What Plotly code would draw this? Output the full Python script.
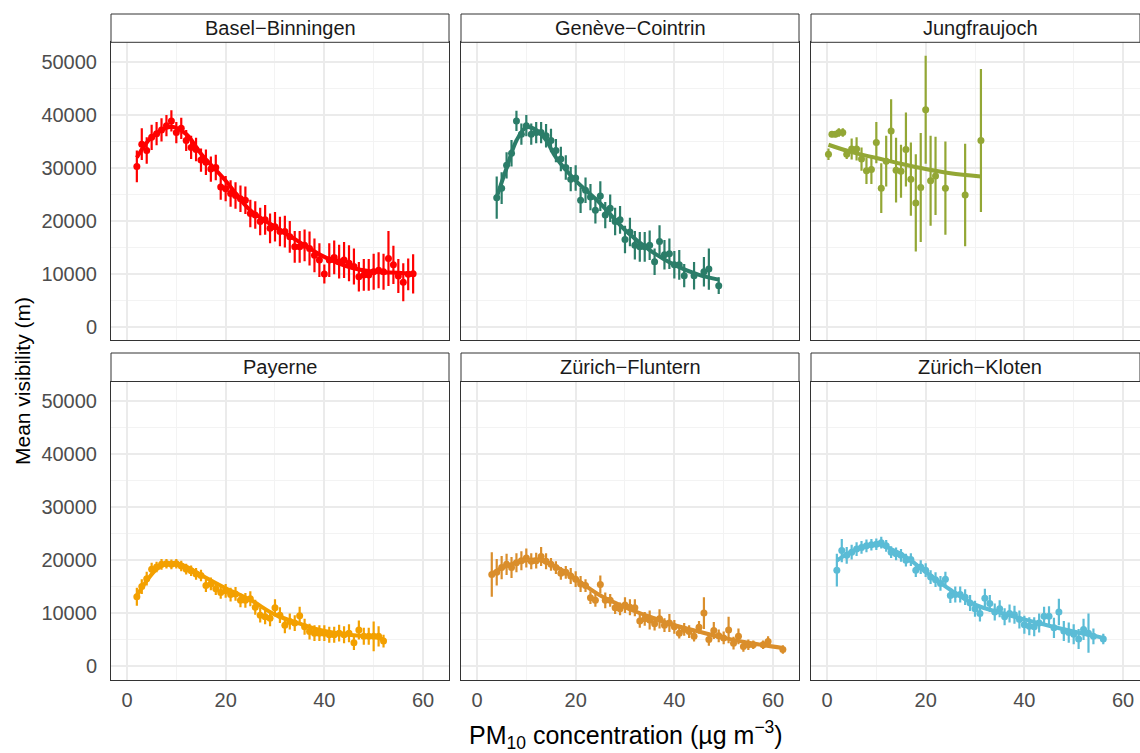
import plotly.graph_objects as go
from plotly.subplots import make_subplots

# ---- station order and colours ----
stations = ["Basel−Binningen", "Genève−Cointrin", "Jungfraujoch",
            "Payerne", "Zürich−Fluntern", "Zürich−Kloten"]
colors = ["#FF0000", "#2B7D69", "#93A735", "#F3A000", "#DA8E2B", "#5BBCD6"]

# ---- binned means (PM10 bin, mean visibility, half-width of interval) ----
basel_pm = [2, 3, 4, 5, 6, 7, 8, 9, 10, 11, 12, 13, 14, 15, 16, 17, 18, 19, 20,
            21, 22, 23, 24, 25, 26, 27, 28, 29, 30, 31, 32, 33, 34, 35, 36, 37,
            38, 39, 40, 41, 42, 43, 44, 45, 46, 47, 48, 49, 50, 51, 52, 53, 54,
            55, 56, 57, 58]
basel_vis = [30300, 34500, 33300, 35800, 36500, 37200, 38000, 38900, 36700, 37500,
             35200, 33900, 33500, 31500, 31100, 29800, 30100, 26400, 26100, 25200,
             24800, 24200, 23900, 21400, 21100, 19900, 20200, 18600, 18900, 18000,
             18000, 17000, 15100, 15100, 15400, 14800, 13500, 12600, 9960, 12600,
             13100, 12300, 12600, 12000, 11400, 9460, 9800, 9800, 10400, 10700,
             10400, 12900, 11700, 9600, 8400, 9900, 10000]
basel_err = [3000, 3000, 2500, 2400, 2200, 2200, 2000, 2000, 2000, 2000, 2000, 2200,
             2200, 2200, 2400, 2400, 2400, 2400, 2400, 2500, 2500, 2500, 2600, 2600,
             2600, 2600, 2800, 2800, 2800, 2800, 3000, 3000, 3000, 3000, 3000, 3200,
             3200, 3200, 1800, 3200, 3200, 3200, 3400, 3400, 3400, 2800, 3000, 3000,
             3400, 3400, 3400, 5200, 3600, 3200, 3600, 3000, 3700]

geneve_pm = [4, 5, 6, 7, 8, 9, 10, 11, 12, 13, 14, 15, 16, 17, 18, 19, 20, 21, 22,
             23, 24, 25, 26, 27, 28, 29, 30, 31, 32, 33, 34, 35, 36, 37, 38, 39, 40,
             41, 42, 44, 46, 47, 49]
geneve_vis = [24400, 26200, 30500, 32800, 38900, 36400, 38000, 36400, 36700, 36700,
              36100, 35200, 33300, 31700, 30100, 27900, 28100, 23900, 25800, 24500,
              22000, 24700, 21100, 22400, 19900, 20200, 16500, 17900, 15400, 15100,
              15100, 15400, 12300, 16100, 13600, 13800, 11700, 11700, 9650, 9650,
              10400, 10900, 7770]
geneve_err = [4000, 3000, 2500, 2500, 1900, 2000, 2000, 2000, 2000, 2000, 2200, 2200,
              2200, 2300, 2300, 2300, 2400, 2400, 2400, 2500, 2500, 2800, 2500, 2600,
              2600, 2600, 2600, 2700, 2700, 2800, 2800, 2800, 2500, 3100, 2800, 2900,
              2600, 2800, 2200, 2600, 2800, 3900, 1600]

jungfrau_pm = [0.3, 1.0, 1.7, 2.4, 3.2, 4, 5, 6, 7, 8, 9, 10, 11, 12, 13, 14, 15,
               16, 17, 18, 19, 20, 21, 22, 24, 28, 31.2]
jungfrau_vis = [32600, 36400, 36400, 36700, 36700, 32600, 33600, 33600, 31700, 29500,
                29700, 34800, 26200, 31300, 37000, 29600, 29400, 33500, 27900, 23400,
                26300, 41000, 27600, 28500, 26200, 24900, 35200]
jungfrau_err = [1100, 600, 600, 800, 800, 900, 2000, 2200, 2200, 2500, 2700, 3900,
                4700, 4800, 6000, 6100, 5000, 7000, 6900, 9200, 10300, 10200, 8500,
                7400, 8800, 9700, 13500]

payerne_pm = [2, 3, 4, 5, 6, 7, 8, 9, 10, 11, 12, 13, 14, 15, 16, 17, 18, 19, 20,
              21, 22, 23, 24, 25, 26, 27, 28, 29, 30, 31, 32, 33, 34, 35, 36, 37, 38,
              39, 40, 41, 42, 43, 44, 45, 46, 47, 48, 49, 50, 51, 52]
payerne_vis = [13100, 15000, 16500, 18300, 18700, 19200, 19300, 19200, 19300, 18900,
               18300, 18000, 17400, 17100, 15200, 15500, 14600, 13900, 14200, 13500,
               13600, 12400, 12400, 12700, 11100, 9600, 9300, 9000, 11000, 9600, 7700,
               8400, 8100, 9500, 7400, 6500, 6200, 6200, 6200, 5900, 5900, 6200, 5900,
               6200, 4400, 6800, 5600, 5600, 5600, 5600, 4700]
payerne_err = [1700, 1400, 1300, 1200, 1000, 1000, 900, 900, 900, 1000, 1000, 1000,
               1100, 1100, 1200, 1200, 1200, 1200, 1300, 1300, 1300, 1300, 1400, 1400,
               1400, 1400, 1400, 1500, 1600, 1500, 1500, 1500, 1500, 1700, 1500, 1500,
               1500, 1500, 1500, 1500, 1500, 1600, 1600, 1700, 1400, 1800, 1600, 1600,
               2800, 1900, 1200]

fluntern_pm = [3, 4, 5, 6, 7, 8, 9, 10, 11, 12, 13, 14, 15, 16, 17, 18, 19, 20, 21,
               22, 23, 24, 25, 26, 27, 28, 29, 30, 31, 32, 33, 34, 35, 36, 37, 38, 39,
               40, 41, 42, 43, 44, 45, 46, 47, 48, 49, 50, 51, 52, 53, 54, 55, 56, 58,
               59, 62]
fluntern_vis = [17300, 17700, 18600, 19200, 18600, 19500, 19900, 20400, 19800, 19900,
                20700, 19800, 19200, 18600, 17500, 17700, 17000, 16400, 15500, 15200,
                12900, 12400, 15400, 12400, 12400, 11000, 10800, 11500, 11100, 11000,
                8500, 8900, 8700, 8000, 8900, 7700, 8100, 7400, 6200, 6900, 6500, 5600,
                7300, 10000, 5000, 6700, 5700, 5300, 6800, 4300, 5600, 3700, 4000, 4000,
                4000, 4600, 3100]
fluntern_err = [4200, 2500, 2200, 2000, 2000, 1800, 1800, 1800, 1500, 1500, 1800, 1500,
                1200, 1200, 1200, 1200, 1500, 1500, 1500, 1200, 1200, 1200, 1700, 1500,
                1200, 1200, 1200, 1500, 1500, 1600, 1300, 1300, 1800, 1300, 1800, 1300,
                1700, 1300, 1000, 1200, 1200, 1000, 1200, 3000, 1200, 1600, 1200, 1200,
                2500, 1200, 1500, 1000, 1000, 800, 800, 1000, 800]

kloten_pm = [2, 3, 4, 5, 6, 7, 8, 9, 10, 11, 12, 13, 14, 15, 16, 17, 18, 19, 20, 21,
             22, 23, 24, 25, 26, 27, 28, 29, 30, 31, 32, 33, 34, 35, 36, 37, 38, 39,
             40, 41, 42, 43, 44, 45, 46, 47, 48, 49, 50, 51, 52, 53, 54, 56]
kloten_vis = [18100, 21800, 20900, 21500, 22100, 22400, 22700, 22900, 23000, 23300,
              22700, 21500, 21200, 20900, 20000, 20100, 18100, 18700, 18100, 16800,
              16300, 15600, 16400, 13300, 13500, 13500, 13000, 11900, 10800, 9900,
              12800, 11800, 10200, 10800, 9300, 9900, 9700, 8800, 7800, 7500, 7400,
              8100, 9400, 9400, 7200, 10200, 6600, 6300, 6000, 5100, 6900, 6200, 5600,
              5100]
kloten_err = [3100, 2200, 1600, 1400, 1300, 1200, 1200, 1100, 1100, 1100, 1100, 1100,
              1200, 1200, 1200, 1200, 1300, 1300, 1300, 1300, 1400, 1400, 1400, 1400,
              1500, 1500, 1500, 1500, 1500, 1500, 1800, 1600, 1600, 1600, 1600, 1700,
              1700, 1700, 1700, 1700, 1800, 1800, 1800, 1900, 1900, 2500, 1900, 1900,
              1900, 1900, 2000, 3700, 1500, 1000]

# ---- smoothed fits (PM10, fitted visibility) ----
basel_fit_pm = [2, 5, 9, 12, 15, 20, 25, 30, 35, 40, 45, 50, 55, 58]
basel_fit_vis = [32000, 35800, 37800, 36400, 32700, 27600, 22000, 18900, 16000, 13200,
                 11300, 10400, 10200, 10000]
geneve_fit_pm = [4, 6, 8, 10, 12, 14, 16, 20, 25, 30, 35, 40, 45, 49]
geneve_fit_vis = [24500, 30000, 35200, 37700, 37200, 35300, 32000, 27600, 23300, 18300,
                  14500, 11700, 9800, 8900]
jungfrau_fit_pm = [0.3, 5, 10, 15, 20, 25, 31.2]
jungfrau_fit_vis = [34400, 33000, 31900, 30800, 29800, 29000, 28400]
payerne_fit_pm = [2, 4, 6, 8, 10, 12, 15, 20, 25, 30, 35, 40, 45, 50, 52]
payerne_fit_vis = [13300, 16100, 18300, 19300, 19400, 18800, 17200, 14700, 12500, 9700,
                   8000, 6600, 5900, 5500, 5000]
fluntern_fit_pm = [3, 6, 9, 12, 15, 18, 21, 25, 30, 35, 40, 45, 50, 55, 62]
fluntern_fit_vis = [17400, 18900, 19800, 20100, 19200, 17700, 15800, 13300, 11100, 9300,
                    7700, 6500, 5300, 4400, 3400]
kloten_fit_pm = [2, 4, 7, 10, 13, 16, 20, 25, 30, 35, 40, 45, 50, 56]
kloten_fit_vis = [19900, 21100, 22400, 23000, 22100, 20600, 17800, 14400, 11600, 10100,
                  8800, 7600, 6500, 5300]

# ---- axis settings ----
y_ticks = [0, 10000, 20000, 30000, 40000, 50000]
y_ticktext = ["0", "10000", "20000", "30000", "40000", "50000"]
y_minor = [5000, 15000, 25000, 35000, 45000]
x_ticks = [0, 20, 40, 60]
x_ticktext = ["0", "20", "40", "60"]
x_minor = [10, 30, 50]
y_range = [-2560, 53760]
x_range_full = [-3.24, 65.27]
x_range_cut = [-3.24, 63.44]

FONT = "Liberation Sans, Arial, sans-serif"

series = [
    (basel_pm, basel_vis, basel_err, basel_fit_pm, basel_fit_vis),
    (geneve_pm, geneve_vis, geneve_err, geneve_fit_pm, geneve_fit_vis),
    (jungfrau_pm, jungfrau_vis, jungfrau_err, jungfrau_fit_pm, jungfrau_fit_vis),
    (payerne_pm, payerne_vis, payerne_err, payerne_fit_pm, payerne_fit_vis),
    (fluntern_pm, fluntern_vis, fluntern_err, fluntern_fit_pm, fluntern_fit_vis),
    (kloten_pm, kloten_vis, kloten_err, kloten_fit_pm, kloten_fit_vis),
]

fig = make_subplots(rows=2, cols=3)

for i, (pm, vis, err, fpm, fvis) in enumerate(series):
    r, c = i // 3 + 1, i % 3 + 1
    col = colors[i]
    fig.add_trace(go.Scatter(
        x=pm, y=vis, mode="markers",
        marker=dict(color=col, size=7),
        error_y=dict(type="data", array=err, visible=True, color=col,
                     thickness=2.2, width=0),
        showlegend=False, hoverinfo="skip"), row=r, col=c)
    fig.add_trace(go.Scatter(
        x=fpm, y=fvis, mode="lines",
        line=dict(color=col, width=4, shape="spline", smoothing=1.0),
        showlegend=False, hoverinfo="skip"), row=r, col=c)

W, H = 1140, 753
col_px = [(111, 449), (461, 799), (811, 1140)]
row_px = [(42.3, 340.3), (381.5, 679.5)]
strip_px = [(14, 42.3), (353, 381.5)]
# the third column's panel runs past the right edge of the page
strip_text_right = [449, 799, 1149]

layout_upd = {}
for i in range(6):
    r, c = i // 3, i % 3
    ax = "" if i == 0 else str(i + 1)
    x0, x1 = col_px[c]
    y0, y1 = row_px[r]
    layout_upd["xaxis" + ax] = dict(
        domain=[x0 / W, x1 / W],
        range=x_range_cut if c == 2 else x_range_full,
        tickvals=x_ticks, ticktext=x_ticktext, showticklabels=(r == 1),
        tickfont=dict(family=FONT, size=20, color="#4D4D4D"),
        ticks="", ticklabelstandoff=2,
        showgrid=True, gridcolor="#EBEBEB", gridwidth=1.6,
        minor=dict(tickvals=x_minor, showgrid=True,
                   gridcolor="#F3F3F3", gridwidth=0.9),
        zeroline=False, showline=True, mirror=True,
        linecolor="#333333", linewidth=1, automargin=False)
    layout_upd["yaxis" + ax] = dict(
        domain=[1 - y1 / H, 1 - y0 / H],
        range=y_range, tickvals=y_ticks, ticktext=y_ticktext,
        showticklabels=(c == 0),
        tickfont=dict(family=FONT, size=20, color="#4D4D4D"),
        ticks="", ticklabelstandoff=9,
        showgrid=True, gridcolor="#EBEBEB", gridwidth=1.6,
        minor=dict(tickvals=y_minor, showgrid=True,
                   gridcolor="#F3F3F3", gridwidth=0.9),
        zeroline=False, showline=True, mirror=True,
        linecolor="#333333", linewidth=1, automargin=False)

fig.update_layout(**layout_upd)

# facet strips
shapes, annotations = [], []
for i, name in enumerate(stations):
    r, c = i // 3, i % 3
    x0, x1 = col_px[c]
    s0, s1 = strip_px[r]
    shapes.append(dict(type="rect", xref="paper", yref="paper",
                       x0=x0 / W, x1=x1 / W, y0=1 - s1 / H, y1=1 - s0 / H,
                       fillcolor="white", line=dict(color="#333333", width=1),
                       layer="above"))
    annotations.append(dict(text=name, xref="paper", yref="paper",
                            x=(x0 + strip_text_right[c]) / 2 / W,
                            y=1 - (s0 + s1) / 2 / H,
                            xanchor="center", yanchor="middle", showarrow=False,
                            font=dict(family=FONT, size=20, color="#1A1A1A")))

annotations.append(dict(text="Mean visibility (m)", xref="paper", yref="paper",
                        x=22 / W, y=1 - 381 / H, textangle=-90,
                        xanchor="center", yanchor="middle", showarrow=False,
                        font=dict(family=FONT, size=21, color="#000000")))
annotations.append(dict(text="PM<sub>10</sub> concentration (µg m<sup>−3</sup>)",
                        xref="paper", yref="paper",
                        x=626 / W, y=1 - 735 / H,
                        xanchor="center", yanchor="middle", showarrow=False,
                        font=dict(family=FONT, size=25, color="#000000")))

fig.update_layout(
    width=W, height=H,
    margin=dict(l=0, r=0, t=0, b=0),
    paper_bgcolor="white", plot_bgcolor="white",
    shapes=shapes, annotations=annotations,
)

fig.write_html("out.html")
